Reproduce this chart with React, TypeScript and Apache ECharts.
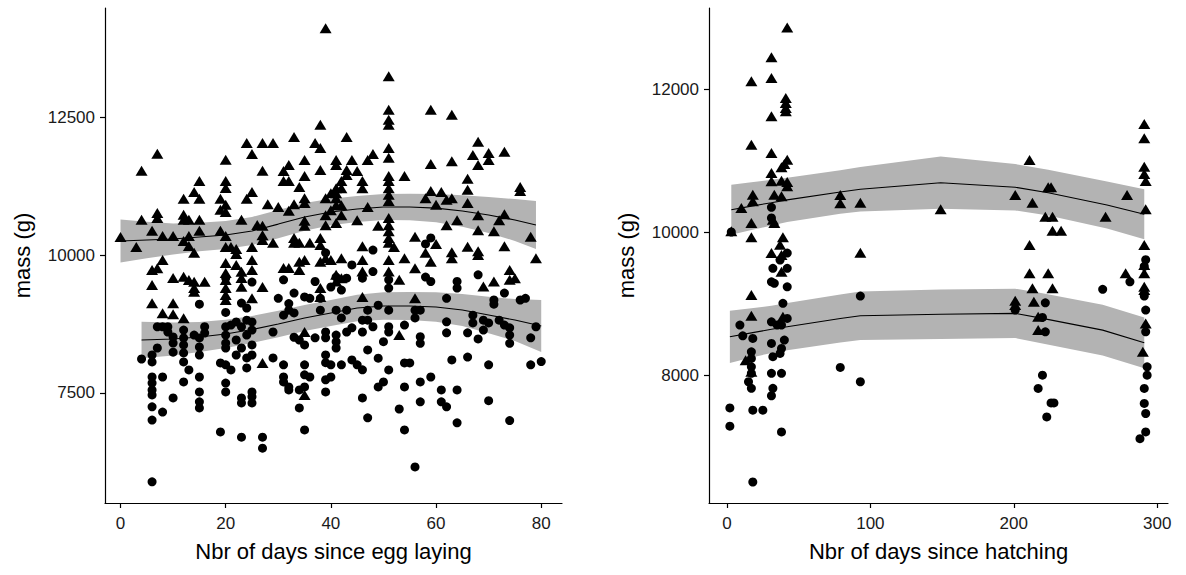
import React, { useEffect, useRef } from "react";
import * as echarts from "echarts";

// ---------- Data: panel 1 (days since egg laying) ----------
const eggTicks = [0, 20, 40, 60, 80];
const eggMassTicks = [7500, 10000, 12500];

const eggTriangles: [number, number][] = [
  [24,12030],[27,12030],[25,11830],[20,11726],[7,11835],[4,11527],[27,11527],[15,11340],[20,11340],[20,11214],
  [14,11141],[15,11020],[12,11020],[19,11020],[25,11141],[24,11020],[20,10911],[19,10820],[20,10780],[7,10761],
  [7,10670],[12,10730],[12,10640],[13,10640],[15,10640],[4,10640],[23,10640],[26,10543],[6,10440],[8,10344],
  [10,10344],[13,10344],[15,10440],[19,10440],[20,10344],[0,10326],[3,10145],[12,10254],[13,10163],[20,10145],
  [21,10145],[22,10109],[25,10145],[14,10040],[22,10020],
  [8,9910],[7,9760],[6,9728],[10,9583],[12,9607],[13,9547],[14,9517],[16,9517],[6,9457],[14,9400],
  [14,9336],[20,9855],[20,9674],[20,9547],[20,9402],[20,9275],[20,9185],[22,9819],[23,9698],[23,9583],
  [23,9426],[25,9910],[25,9728],[6,9125],[10,9125],[8,8944],[10,8926],[12,8853],[25,9216],
  [39,14110],[51,13240],[51,12630],[51,12450],[51,12360],[38,12360],[33,12140],[43,12140],[29,12030],[37,12030],
  [38,11940],[35,11720],[41,11720],[41,11630],[44,11720],[47,11720],[48,11830],[51,11940],[51,11760],[32,11630],
  [31,11520],[38,11540],[43,11540],[43,11450],[45,11520],[54,11430],[51,11430],[51,11340],[51,11210],[51,11090],
  [51,10980],[35,11430],[31,11340],[32,11340],[42,11340],[42,11210],[41,11210],[41,11120],[40,11120],[34,11230],
  [46,11340],[46,11210],[28,10920],[30,10870],[33,10920],[32,10800],[35,11030],[35,10940],[39,11030],[41,11030],
  [41,10900],[42,10900],[40,10810],[39,10720],[39,10540],[42,10720],[41,10580],[47,10870],[45,10630],[49,10530],
  [51,10670],[51,10540],[51,10430],[51,10310],[51,10220],[35,10620],[35,10530],[27,10530],[27,10360],[27,10270],
  [29,10220],[33,10310],[33,10220],[34,10220],[36,10220],[38,10310],[38,10180],[46,10160],[52,10145],
  [59,12630],[63,12540],[68,12050],[67,11810],[70,11850],[70,11720],[73,11870],[68,11630],[59,11650],[63,11700],
  [66,11380],[66,11180],[76,11230],[76,11160],[59,11160],[58,11030],[61,11140],[60,10910],[62,11000],[63,11030],
  [66,10940],[68,10720],[73,10740],[72,10630],[64,10630],[62,10540],[68,10450],[71,10430],[78,10330],[56,10330],
  [60,10200],[58,10040],[66,10150],[68,10070],[73,10160],[63,10050],
  [31,9765],[32,9765],[34,9880],[35,9910],[34,9730],[38,9880],[39,9940],[40,9910],[42,9940],[41,9640],
  [42,9580],[41,9520],[46,9910],[46,9700],[51,9910],[51,9700],[53,9550],[54,9940],[27,9420],[27,8045],
  [38,9400],[38,9240],[35,8605],[46,9240],[53,8550],[35,7465],
  [56,9760],[59,9880],[63,9940],[68,10000],[79,9940],[74,9730],[74,9550],[75,9580],[71,9520],[69,9430],[56,9215]
];

const eggCircles: [number, number][] = [
  [15,9110],[20,8960],[23,9130],[24,9040],[25,9510],[7,8700],[8,8700],[9,8700],[9,8605],[10,8515],
  [10,8405],[10,8240],[12,8640],[12,8497],[12,8370],[12,8225],[12,8062],[13,7917],[14,8550],[15,8497],
  [16,8700],[16,8585],[15,8333],[15,8188],[7,8315],[6,8188],[6,8062],[4,8116],[6,7790],[6,7680],
  [6,7555],[6,7465],[8,7790],[12,7700],[15,7790],[15,7520],[15,7340],[15,7230],[6,7250],[6,7010],
  [8,7155],[10,7410],[6,5890],[20,7680],[20,7520],[19,6795],[23,6700],[23,7410],[23,7320],[25,7520],
  [25,7430],[25,7320],[27,6700],[27,6500],[19,8045],[20,8010],[21,7917],[24,7955],[20,8700],[20,8550],
  [20,8405],[20,8315],[21,8730],[22,8787],[23,8700],[24,8820],[25,8787],[25,8640],[24,8550],[22,8460],
  [23,8315],[22,8188],[24,8135],[25,8370],[25,8188],[20,9583],
  [31,9550],[33,9310],[30,9215],[35,9240],[36,9215],[37,9520],[38,9215],[40,9420],[42,9365],[43,9580],
  [41,9600],[44,9820],[48,9700],[46,9580],[51,9550],[51,9400],[32,9120],[33,8950],[31,8910],[32,9000],
  [38,9000],[41,9000],[42,8860],[43,9000],[46,8820],[47,8820],[47,9000],[49,9090],[51,9000],[29,8605],
  [33,8510],[34,8460],[35,8370],[37,8500],[39,8605],[39,8500],[41,8550],[41,8430],[41,8315],[43,8605],
  [44,8680],[46,8605],[48,8700],[47,8280],[49,8130],[51,8700],[50,8430],[51,8605],[54,8730],[29,8135],
  [31,8010],[35,8010],[39,8190],[39,8050],[40,8010],[42,8010],[44,8100],[45,8010],[46,7920],[31,7790],
  [31,7700],[32,7610],[32,7555],[35,7830],[36,7790],[35,7610],[34,7555],[39,7740],[40,7790],[39,7520],
  [51,7917],[50,7700],[49,7610],[54,7610],[34,7230],[35,6830],[46,7410],[47,7050],[53,7210],[54,6830],
  [54,8045],[39,10040],[48,10090],
  [58,9600],[59,9520],[64,9520],[64,9400],[68,9640],[73,9310],[71,9185],[71,9110],[76,9185],[77,9215],
  [62,9215],[56,9000],[57,9000],[56,8860],[62,8790],[62,8590],[67,8910],[67,8770],[66,8590],[69,8820],
  [70,8770],[69,8640],[68,8480],[72,8820],[73,8730],[74,8680],[74,8550],[74,8400],[79,8700],[78,8500],
  [57,8520],[57,8400],[55,8045],[57,7700],[59,7790],[63,8100],[66,8150],[70,8010],[78,8010],[80,8070],
  [61,7555],[64,7555],[57,7340],[61,7340],[62,7250],[70,7360],[64,6960],[74,7000],[56,6160],[59,10310],[58,10200]
];

// fitted curves and 95% band half-widths, panel 1
const eggMaleFitDays = [0,5,10,15,20,25,30,35,40,45,50,55,60,65,70,75,79];
const eggMaleFitMass = [10254,10272,10290,10326,10362,10435,10560,10690,10780,10833,10870,10870,10850,10797,10725,10634,10543];
const eggMaleFitHalf = [390,330,280,260,255,255,255,250,240,235,235,240,255,285,325,380,435];

const eggFemaleFitDays = [4,10,15,20,25,30,35,40,45,50,55,60,65,70,75,80];
const eggFemaleFitMass = [8460,8478,8514,8570,8650,8750,8859,8950,9040,9076,9076,9058,9004,8913,8822,8714];
const eggFemaleFitHalf = [330,300,272,255,245,240,235,235,240,250,254,265,290,330,380,470];

// ---------- Data: panel 2 (days since hatching) ----------
const hatchTicks = [0, 100, 200, 300];
const hatchMassTicks = [8000, 10000, 12000];

const hatchTriangles: [number, number][] = [
  [42,12860],[31,12445],[17,12110],[31,12155],[41,11876],[41,11806],[41,11736],[41,11690],[31,11620],[17,11222],
  [31,11106],[42,11012],[40,10952],[38,10906],[31,10826],[31,10710],[38,10718],[42,10700],[42,10640],[18,10522],
  [18,10430],[33,10522],[38,10500],[10,10336],[17,10126],[32,10172],[33,10126],[17,9925],[39,9925],[37,9822],
  [31,9705],[3,10010],
  [17,9118],[17,8828],[38,9444],[38,9678],[39,8814],[13,8208],[17,8044],
  [79,10518],[79,10402],[93,10410],[149,10318],[211,11008],[201,10518],[213,10410],[224,10626],[226,10626],[222,10214],
  [227,10214],[227,10018],[233,10018],[264,10214],[279,10518],[291,11512],[291,11312],[291,10914],[291,10812],[292,10714],
  [292,10318],
  [93,9710],[211,9818],[211,9422],[224,9422],[213,9212],[227,9212],[201,9038],[201,8978],[214,9024],[217,8814],
  [217,8628],[291,9818],[291,9538],[291,9422],[278,9422],[291,9234],[291,9188],[292,8722],[290,8324]
];

const hatchCircles: [number, number][] = [
  [3,10000],[31,10345],[31,10196],[42,9705],
  [37,9608],[32,9492],[42,9492],[31,9304],[33,9282],[42,9234],[39,9002],[31,8744],[35,8698],[38,8698],
  [42,8792],[9,8698],[11,8548],[18,8512],[31,8442],[40,8488],[38,8372],[37,8302],[32,8256],[17,8324],
  [17,8232],[17,8114],[17,8024],[15,7906],[17,7814],[31,8024],[38,8024],[32,7814],[31,7710],[2,7540],
  [18,7508],[25,7508],[2,7284],[38,7204],[18,6504],
  [93,9104],[79,8106],[93,7906],[201,8908],[222,9010],[220,8806],[222,8604],[262,9198],[281,9304],[292,9612],
  [291,9520],[291,9104],[292,8908],[292,8604],[293,8114],[293,7998],[291,7812],[291,7602],[292,7462],[292,7204],
  [288,7110],[220,7998],[217,7812],[226,7610],[228,7610],[223,7414]
];

const hatchMaleFitDays = [3,17,31,42,79,93,149,201,224,265,291];
const hatchMaleFitMass = [10312,10362,10410,10450,10560,10598,10690,10626,10550,10378,10248];
const hatchMaleFitHalf = [350,335,320,310,305,310,365,325,320,330,350];

const hatchFemaleFitDays = [2,17,31,42,79,93,149,201,220,262,291];
const hatchFemaleFitMass = [8534,8589,8639,8676,8790,8828,8850,8862,8792,8628,8450];
const hatchFemaleFitHalf = [365,345,330,330,335,340,345,345,350,355,355];

// ---------- helpers ----------
const FONT = "'Liberation Sans', Arial, sans-serif";

function bandSeries(xi: number, days: number[], mid: number[], half: number[]) {
  const data = days.map((d, i) => [d, mid[i] - half[i], mid[i] + half[i]]);
  return {
    type: "custom",
    xAxisIndex: xi,
    yAxisIndex: xi,
    silent: true,
    z: 1,
    data,
    encode: { x: 0, y: [1, 2] },
    renderItem: (params: any, api: any) => {
      if (params.dataIndex !== 0) return { type: "group", children: [] };
      const upper = data.map((r) => api.coord([r[0], r[2]]));
      const lower = data.map((r) => api.coord([r[0], r[1]])).reverse();
      return {
        type: "polygon",
        shape: { points: upper.concat(lower) },
        style: { fill: "#b3b3b3" },
      };
    },
  };
}

function lineSeries(xi: number, days: number[], mid: number[]) {
  return {
    type: "line",
    xAxisIndex: xi,
    yAxisIndex: xi,
    data: days.map((d, i) => [d, mid[i]]),
    showSymbol: false,
    silent: true,
    z: 2,
    lineStyle: { color: "#000", width: 1.1 },
  };
}

function scatterSeries(xi: number, pts: [number, number][], symbol: string) {
  return {
    type: "scatter",
    xAxisIndex: xi,
    yAxisIndex: xi,
    data: pts,
    symbol,
    symbolSize: symbol === "triangle" ? [12, 10] : 9,
    itemStyle: { color: "#000", opacity: 1 },
    z: 3,
  };
}

const plain = (v: number) => String(Math.round(v));

function xAxis(grid: number, min: number, max: number, ticks: number[], name: string) {
  return {
    type: "value",
    gridIndex: grid,
    min,
    max,
    name,
    nameLocation: "middle",
    nameGap: 37,
    nameTextStyle: { fontSize: 22, color: "#000", fontFamily: FONT },
    axisLine: { show: true, onZero: false, lineStyle: { color: "#000", width: 1.2 } },
    axisTick: { show: true, customValues: ticks, length: 5, lineStyle: { color: "#000", width: 1.2 } },
    axisLabel: { customValues: ticks, fontSize: 17, color: "#1a1a1a", fontFamily: FONT, margin: 12, formatter: plain },
    splitLine: { show: false },
  };
}

function yAxis(grid: number, min: number, max: number, ticks: number[]) {
  return {
    type: "value",
    gridIndex: grid,
    min,
    max,
    name: "mass (g)",
    nameLocation: "middle",
    nameGap: 72,
    nameTextStyle: { fontSize: 22, color: "#000", fontFamily: FONT },
    axisLine: { show: true, onZero: false, lineStyle: { color: "#000", width: 1.2 } },
    axisTick: { show: true, customValues: ticks, length: 5, lineStyle: { color: "#000", width: 1.2 } },
    axisLabel: { customValues: ticks, fontSize: 17, color: "#1a1a1a", fontFamily: FONT, margin: 10, formatter: plain },
    splitLine: { show: false },
  };
}

export default function App() {
  const ref = useRef<HTMLDivElement>(null);
  useEffect(() => {
    if (!ref.current) return;
    const chart = echarts.init(ref.current, undefined, { renderer: "svg" });
    chart.setOption({
      animation: false,
      backgroundColor: "#fff",
      grid: [
        { left: 105, top: 8, width: 457, height: 495 },
        { left: 709, top: 8, width: 459, height: 495 },
      ],
      xAxis: [
        xAxis(0, -2.95, 83.95, eggTicks, "Nbr of days since egg laying"),
        xAxis(1, -12.55, 307.55, hatchTicks, "Nbr of days since hatching"),
      ],
      yAxis: [
        yAxis(0, 5507, 14475, eggMassTicks),
        yAxis(1, 6210, 13133, hatchMassTicks),
      ],
      series: [
        bandSeries(0, eggMaleFitDays, eggMaleFitMass, eggMaleFitHalf),
        bandSeries(0, eggFemaleFitDays, eggFemaleFitMass, eggFemaleFitHalf),
        lineSeries(0, eggMaleFitDays, eggMaleFitMass),
        lineSeries(0, eggFemaleFitDays, eggFemaleFitMass),
        scatterSeries(0, eggTriangles, "triangle"),
        scatterSeries(0, eggCircles, "circle"),
        bandSeries(1, hatchMaleFitDays, hatchMaleFitMass, hatchMaleFitHalf),
        bandSeries(1, hatchFemaleFitDays, hatchFemaleFitMass, hatchFemaleFitHalf),
        lineSeries(1, hatchMaleFitDays, hatchMaleFitMass),
        lineSeries(1, hatchFemaleFitDays, hatchFemaleFitMass),
        scatterSeries(1, hatchTriangles, "triangle"),
        scatterSeries(1, hatchCircles, "circle"),
      ],
    });
    return () => chart.dispose();
  }, []);
  return (
    <div
      ref={ref}
      style={{ position: "absolute", left: 0, top: 0, width: 1186, height: 575, background: "#fff" }}
    />
  );
}
